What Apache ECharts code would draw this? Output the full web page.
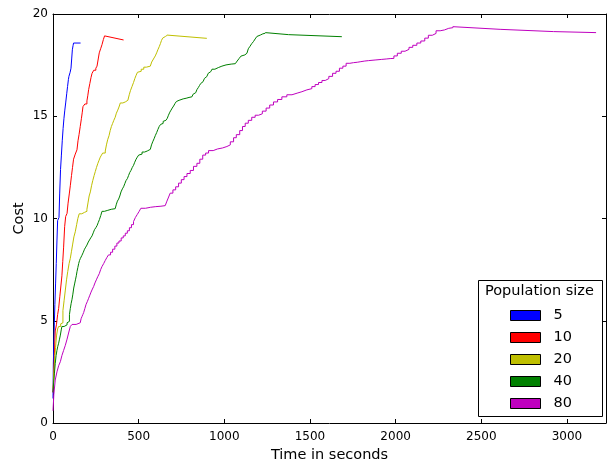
<!DOCTYPE html>
<html>
<head>
<meta charset="utf-8">
<script src="https://cdn.jsdelivr.net/npm/echarts@6/dist/echarts.min.js"></script>
<style>
  html, body { margin: 0; padding: 0; background: #fff; }
  #chart { width: 611px; height: 464px; }
</style>
</head>
<body>
<div id="chart"></div>
<script>
// Population sizes shown in the legend
const populationSizes = ['5', '10', '20', '40', '80'];
const seriesColors = ['#0000ff', '#ff0000', '#bfbf00', '#008000', '#bf00bf'];

// Rising phase of each run: [time in seconds, cost], drawn as steps
const rise5 = [[0,1.2],[2,2.9],[5,3.9],[8,4.9],[11,5.8],[15,6.8],[19,7.8],[23,8.9],[27,9.9],[35,10.05],[39,11.2],[44,12.4],[49,13.1],[54,13.8],[59,14.4],[64,14.9],[69,15.3],[74,15.65],[80,16.1],[85,16.45],[90,16.8],[93,16.95],[100,17.15],[105,17.35],[109,17.8],[113,18.25],[117,18.45],[120,18.58]];
const rise10 = [[0,1.5],[4,2.1],[8,3.3],[13,4.5],[20,4.8],[27,5.3],[33,5.6],[40,6.2],[46,6.7],[52,7.2],[57,7.9],[62,8.6],[68,9.6],[74,10.1],[82,10.25],[88,10.75],[95,11.2],[101,11.6],[108,12.1],[114,12.5],[120,12.9],[130,13.15],[140,13.36],[146,13.8],[152,14.1],[159,14.5],[166,14.9],[171,15.2],[175,15.47],[186,15.6],[198,15.75],[203,16.0],[208,16.3],[215,16.6],[222,16.9],[228,17.1],[238,17.25],[250,17.35],[257,17.45],[264,17.8],[270,18.1],[278,18.3],[286,18.5],[294,18.75],[301,18.93]];
const rise20 = [[0,1.7],[5,2.5],[10,3.2],[15,3.7],[21,4.3],[27,4.6],[33,4.72],[45,4.85],[52,4.9],[58,5.5],[65,6.0],[72,6.5],[79,7.0],[86,7.4],[94,7.8],[101,8.05],[108,8.4],[115,8.75],[122,9.1],[130,9.35],[138,9.7],[145,10.0],[153,10.23],[168,10.3],[184,10.35],[198,10.45],[205,10.8],[211,11.1],[218,11.3],[225,11.6],[232,11.85],[240,12.1],[247,12.3],[254,12.5],[262,12.7],[269,12.85],[276,13.0],[283,13.1],[290,13.2],[305,13.3],[312,13.6],[319,13.85],[327,14.05],[334,14.3],[341,14.5],[348,14.65],[355,14.8],[363,14.95],[370,15.15],[378,15.3],[385,15.45],[393,15.65],[408,15.7],[422,15.78],[437,15.85],[445,16.05],[452,16.25],[461,16.45],[470,16.65],[478,16.85],[485,17.0],[493,17.15],[500,17.2],[515,17.3],[530,17.4],[545,17.45],[568,17.52],[576,17.65],[583,17.75],[590,17.85],[597,17.95],[605,18.1],[612,18.25],[620,18.4],[627,18.55],[633,18.7],[640,18.82],[648,18.9],[656,18.95],[665,18.97]];
const rise40 = [[0,1.5],[4,2.0],[8,2.4],[13,2.9],[18,3.3],[23,3.55],[28,3.75],[33,3.9],[38,4.1],[43,4.3],[48,4.55],[52,4.72],[65,4.8],[82,4.9],[91,4.97],[96,5.3],[101,5.6],[106,5.85],[111,6.05],[116,6.3],[121,6.6],[126,6.8],[131,7.0],[136,7.2],[140,7.4],[145,7.6],[150,7.8],[155,7.95],[160,8.05],[165,8.1],[169,8.2],[177,8.35],[184,8.5],[191,8.6],[198,8.7],[206,8.85],[213,8.95],[220,9.05],[228,9.15],[235,9.3],[242,9.45],[250,9.55],[257,9.65],[264,9.8],[271,9.95],[279,10.15],[286,10.35],[300,10.4],[320,10.45],[340,10.48],[363,10.52],[370,10.7],[376,10.85],[383,10.95],[390,11.1],[397,11.3],[405,11.45],[412,11.55],[419,11.7],[426,11.85],[434,11.95],[441,12.1],[448,12.25],[455,12.35],[463,12.5],[470,12.6],[477,12.75],[485,12.9],[492,13.0],[500,13.1],[509,13.15],[520,13.25],[535,13.3],[550,13.38],[568,13.45],[575,13.6],[582,13.75],[590,13.9],[597,14.05],[605,14.2],[612,14.35],[620,14.5],[628,14.6],[636,14.65],[643,14.75],[651,14.8],[659,14.85],[667,14.9],[674,15.05],[682,15.2],[689,15.3],[696,15.4],[704,15.5],[712,15.62],[720,15.72],[728,15.78],[736,15.82],[743,15.85],[760,15.88],[777,15.92],[794,15.95],[811,15.98],[818,16.08],[826,16.15],[833,16.22],[840,16.3],[848,16.4],[855,16.5],[862,16.6],[869,16.69],[876,16.77],[884,16.85],[891,16.94],[898,17.02],[906,17.1],[913,17.18],[921,17.25],[928,17.3],[945,17.38],[965,17.45],[986,17.51],[1010,17.55],[1040,17.57],[1064,17.59],[1075,17.7],[1086,17.82],[1097,17.94],[1108,18.0],[1120,18.08],[1132,18.16],[1140,18.3],[1150,18.42],[1160,18.55],[1170,18.65],[1180,18.78],[1190,18.9],[1200,18.97],[1210,19.03],[1225,19.06],[1239,19.09]];
const rise80 = [[0,0.6],[5,1.4],[13,2.1],[23,2.5],[33,2.8],[43,3.0],[52,3.3],[62,3.55],[72,3.8],[82,4.1],[91,4.4],[101,4.72],[111,4.82],[135,4.9],[159,4.97],[164,5.1],[169,5.2],[174,5.3],[179,5.4],[186,5.6],[193,5.8],[201,5.95],[208,6.1],[215,6.25],[222,6.4],[230,6.55],[237,6.67],[245,6.85],[253,7.0],[261,7.15],[270,7.3],[278,7.5],[286,7.65],[296,7.8],[305,7.95],[315,8.1],[324,8.22],[336,8.35],[348,8.5],[361,8.65],[373,8.8],[385,8.9],[398,9.05],[410,9.15],[422,9.28],[434,9.4],[446,9.55],[458,9.7],[470,9.85],[481,10.05],[492,10.2],[503,10.35],[513,10.5],[540,10.55],[570,10.58],[600,10.6],[630,10.63],[655,10.67],[665,10.85],[675,11.05],[684,11.24],[700,11.4],[716,11.55],[733,11.73],[749,11.9],[765,12.05],[782,12.2],[801,12.35],[820,12.55],[840,12.7],[857,12.9],[874,13.1],[891,13.2],[908,13.32],[935,13.4],[960,13.45],[990,13.52],[1015,13.6],[1035,13.75],[1054,13.95],[1070,14.1],[1090,14.3],[1106,14.5],[1122,14.66],[1140,14.8],[1160,14.95],[1180,15.05],[1200,15.12],[1222,15.25],[1244,15.4],[1265,15.55],[1287,15.7],[1311,15.82],[1336,15.95],[1365,16.05],[1395,16.13],[1425,16.2],[1453,16.29],[1482,16.35],[1511,16.45],[1530,16.55],[1550,16.65],[1570,16.75],[1589,16.84],[1610,16.95],[1632,17.1],[1652,17.2],[1672,17.35],[1692,17.45],[1711,17.59],[1733,17.62],[1754,17.64],[1776,17.67],[1797,17.7],[1820,17.72],[1841,17.75],[1880,17.78],[1919,17.8],[1945,17.82],[1968,17.83],[1990,17.95],[2010,18.08],[2033,18.18],[2055,18.27],[2078,18.37],[2100,18.47],[2124,18.58],[2147,18.68],[2170,18.82],[2191,18.96],[2214,19.05],[2236,19.18],[2260,19.22],[2285,19.3],[2310,19.33],[2334,19.38]];

// Final phase of each run: plain line from the peak to the last sample
const tail5 = [[120,18.58],[161,18.58]];
const tail10 = [[301,18.93],[412,18.73]];
const tail20 = [[665,18.97],[898,18.81]];
const tail40 = [[1239,19.09],[1375,18.99],[1686,18.89]];
const tail80 = [[2334,19.38],[2610,19.25],[2921,19.14],[3170,19.09]];

const risePhases = [rise5, rise10, rise20, rise40, rise80];
const tailPhases = [tail5, tail10, tail20, tail40, tail80];

// Axis settings
const xMax = 3228;
const xInterval = 500;
const yMax = 20;
const yInterval = 5;

const FONT = 'DejaVu Sans';

const series = [];
populationSizes.forEach((name, i) => {
  series.push({
    name: name,
    type: 'line',
    step: 'end',
    data: risePhases[i],
    showSymbol: false,
    lineStyle: { color: seriesColors[i], width: 1 },
    itemStyle: { color: seriesColors[i] },
    z: 3
  });
  series.push({
    name: name + ' final',
    type: 'line',
    data: tailPhases[i],
    showSymbol: false,
    lineStyle: { color: seriesColors[i], width: 1 },
    itemStyle: { color: seriesColors[i] },
    z: 3
  });
});

const tickLabel = { fontFamily: FONT, fontSize: 12, color: '#000' };
const frameLine = { show: true, onZero: false, lineStyle: { color: '#000', width: 1 } };
const innerTick = { show: true, inside: true, length: 4, lineStyle: { color: '#000', width: 1 } };

const chart = echarts.init(document.getElementById('chart'), null, { renderer: 'canvas' });
chart.setOption({
  animation: false,
  backgroundColor: '#ffffff',
  grid: { left: 53, right: 5, top: 14, bottom: 41, containLabel: false, outerBoundsMode: 'none' },
  xAxis: [
    {
      type: 'value', min: 0, max: xMax, interval: xInterval,
      name: 'Time in seconds', nameLocation: 'middle', nameGap: 24,
      nameTextStyle: { fontFamily: FONT, fontSize: 14.5, color: '#000' },
      axisLine: frameLine, axisTick: innerTick,
      axisLabel: Object.assign({ margin: 8, showMaxLabel: false,
        formatter: v => (v % xInterval === 0 ? String(v) : '') }, tickLabel),
      splitLine: { show: false }
    },
    {
      type: 'value', position: 'top', min: 0, max: xMax, interval: xInterval,
      axisLine: frameLine, axisTick: innerTick,
      axisLabel: { show: false }, splitLine: { show: false }
    }
  ],
  yAxis: [
    {
      type: 'value', min: 0, max: yMax, interval: yInterval,
      name: 'Cost', nameLocation: 'middle', nameGap: 26, nameRotate: 90,
      nameMoveOverlap: false,
      nameTextStyle: { fontFamily: FONT, fontSize: 14.5, color: '#000' },
      axisLine: frameLine, axisTick: innerTick,
      axisLabel: Object.assign({ margin: 5 }, tickLabel),
      splitLine: { show: false }
    },
    {
      type: 'value', position: 'right', min: 0, max: yMax, interval: yInterval,
      axisLine: frameLine, axisTick: innerTick,
      axisLabel: { show: false }, splitLine: { show: false }
    }
  ],
  legend: {
    data: populationSizes,
    orient: 'vertical',
    left: 510,
    top: 308,
    icon: 'rect',
    itemWidth: 30,
    itemHeight: 10,
    itemGap: 7,
    padding: 0,
    selectedMode: false,
    itemStyle: { borderColor: '#000', borderWidth: 1 },
    textStyle: { fontFamily: FONT, fontSize: 14.5, color: '#000', padding: [0, 0, 0, 8] }
  },
  graphic: [
    {
      type: 'rect', left: 478, top: 280, z: 1,
      shape: { x: 0, y: 0, width: 124, height: 136 },
      style: { fill: '#fff', stroke: '#000', lineWidth: 1 }
    },
    {
      type: 'text', left: 485, top: 284, z: 5,
      style: { text: 'Population size', font: '14.5px "DejaVu Sans"', fill: '#000' }
    }
  ],
  series: series
});
</script>
</body>
</html>
